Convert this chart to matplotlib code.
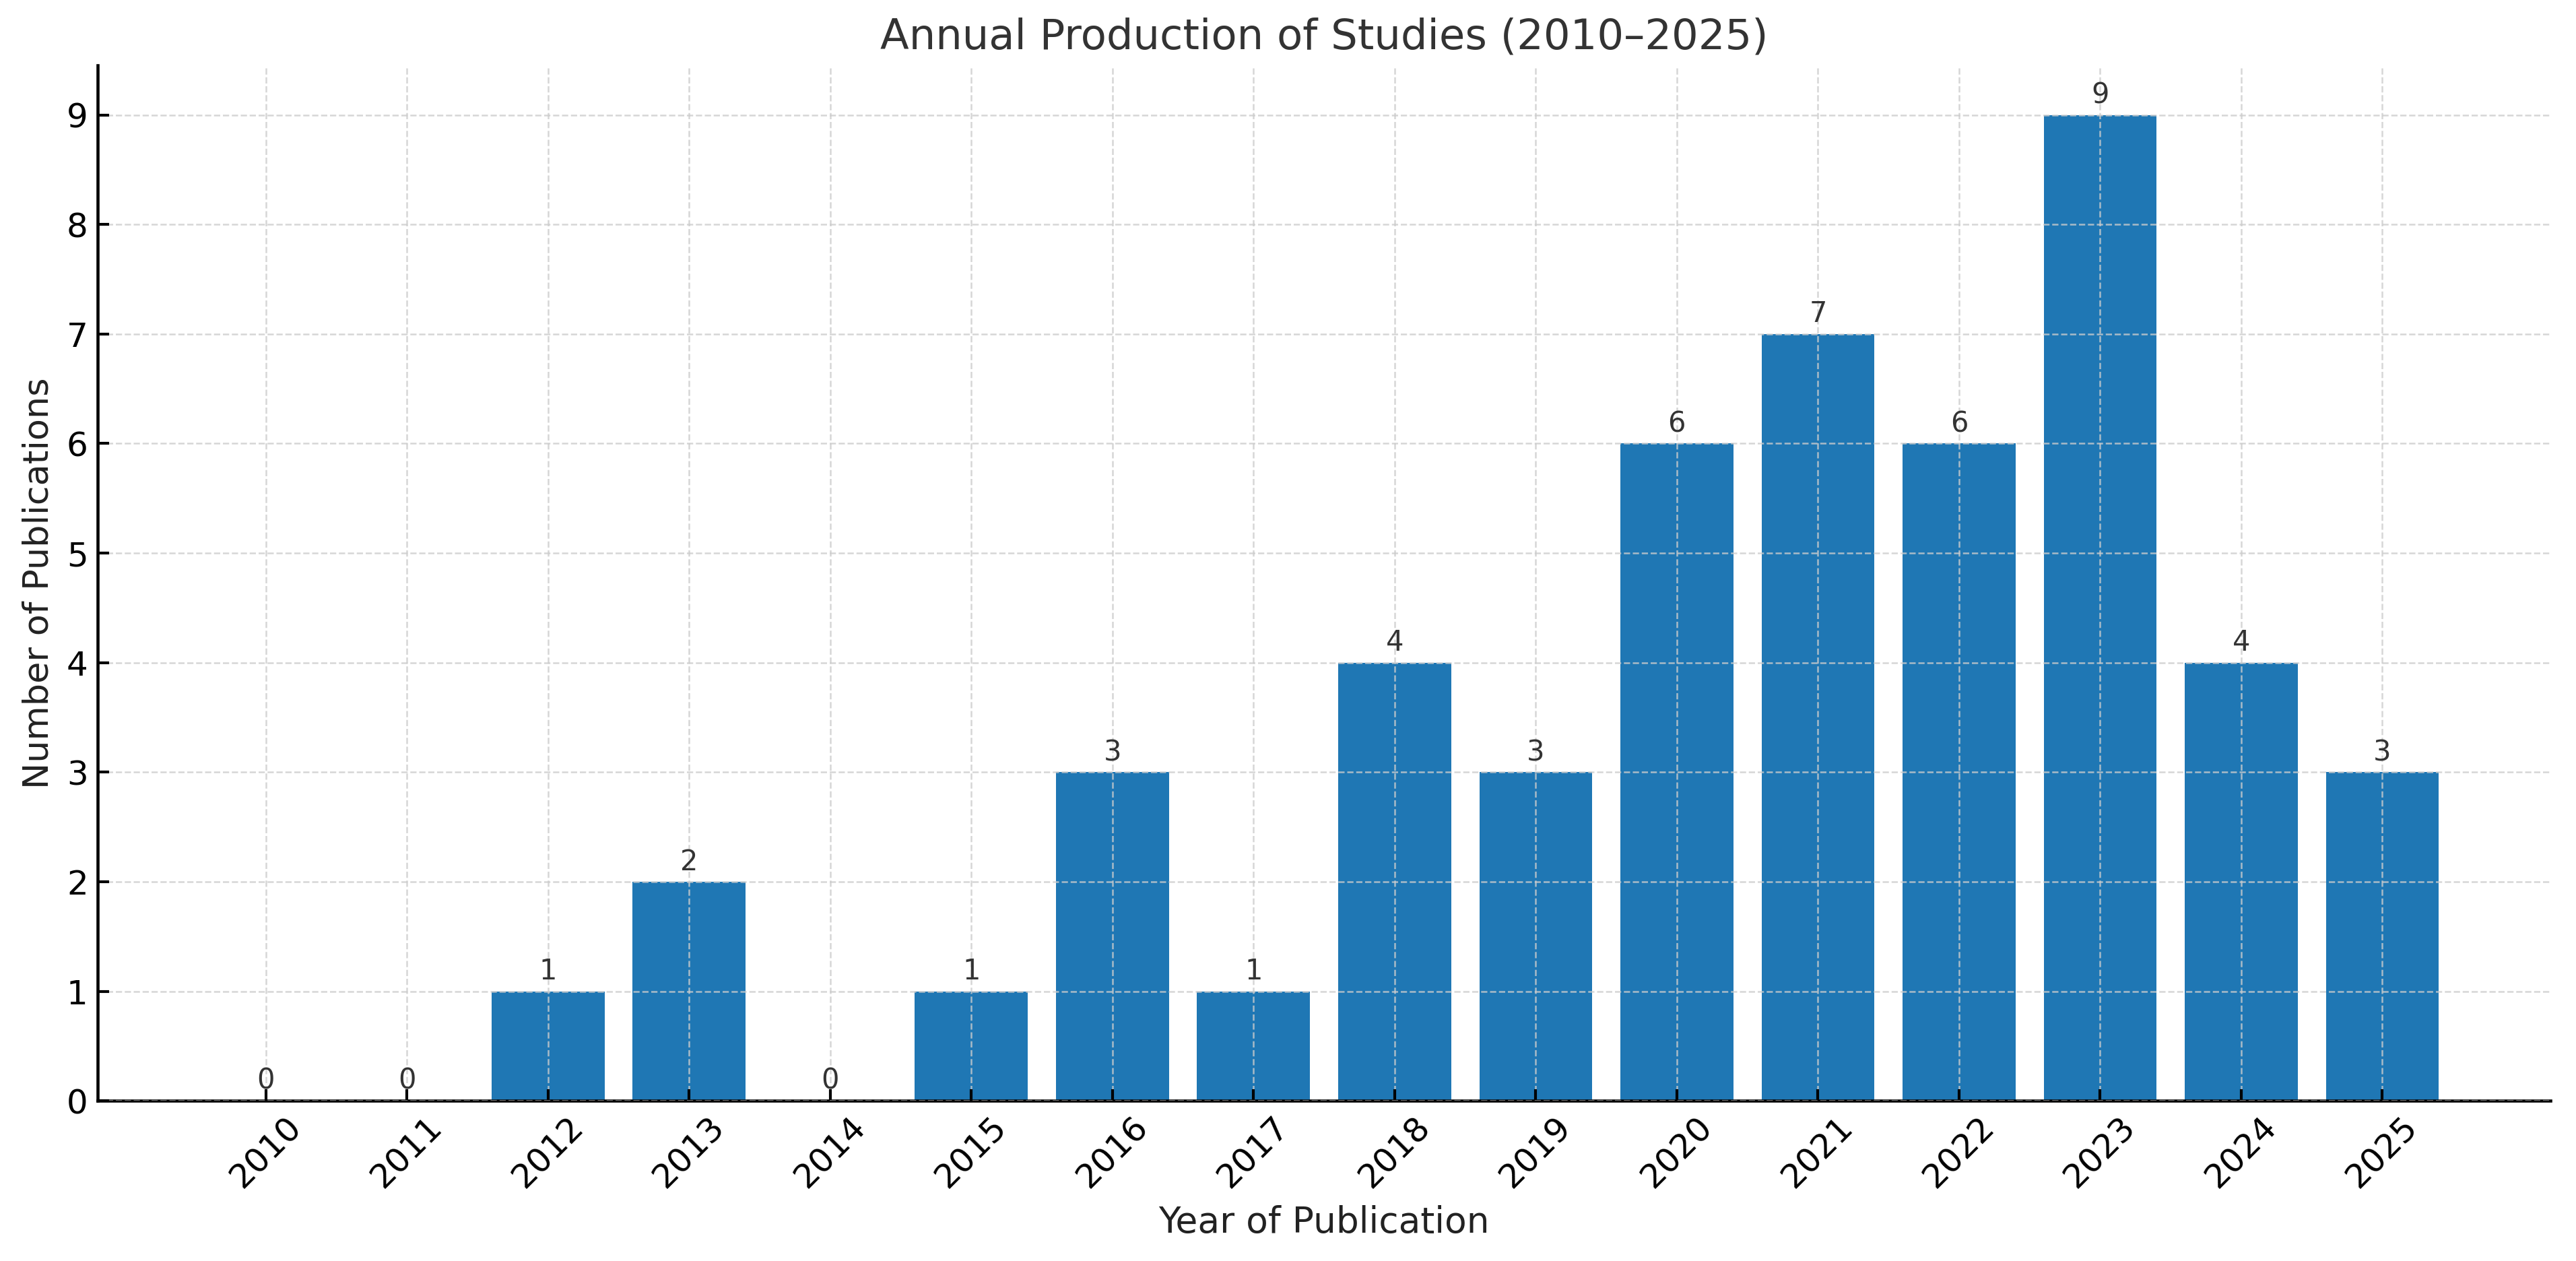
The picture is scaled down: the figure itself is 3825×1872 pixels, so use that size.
import numpy as np
import matplotlib
matplotlib.use("Agg")
import matplotlib.pyplot as plt

years = ['2010', '2011', '2012', '2013', '2014', '2015', '2016', '2017',
         '2018', '2019', '2020', '2021', '2022', '2023', '2024', '2025']
counts = [0, 0, 1, 2, 0, 1, 3, 1, 4, 3, 6, 7, 6, 9, 4, 3]
yticks = list(range(0, 10))


def main():
    fig, ax = plt.subplots(figsize=(12.75, 6.24), dpi=300)
    fig.subplots_adjust(left=0.038, right=0.99, top=0.948, bottom=0.127)

    bars = ax.bar(years, counts, width=0.8, color='#1f77b4')

    for b, v in zip(bars, counts):
        ax.annotate(str(v), (b.get_x() + b.get_width() / 2, v),
                    xytext=(0, 2), textcoords='offset points',
                    ha='center', va='bottom', fontsize=10, color='#333333')

    ax.set_title('Annual Production of Studies (2010\u20132025)', fontsize=15, color='#333333')
    ax.set_xlabel('Year of Publication', fontsize=12.8, color='#222222')
    ax.set_ylabel('Number of Publications', fontsize=12.6, color='#222222')
    ax.set_yticks(yticks)
    ax.tick_params(axis='both', direction='in', labelsize=12, length=4, width=1)
    plt.setp(ax.get_xticklabels(), rotation=45)

    ax.spines['top'].set_visible(False)
    ax.spines['right'].set_visible(False)
    ax.spines['left'].set_linewidth(1.1)
    ax.spines['bottom'].set_linewidth(1.1)
    ax.set_axisbelow(False)
    ax.grid(True, linestyle='--', linewidth=0.6, color='#cccccc', alpha=0.8)

    fig.savefig('out.png', dpi=300)


if __name__ == '__main__':
    main()
